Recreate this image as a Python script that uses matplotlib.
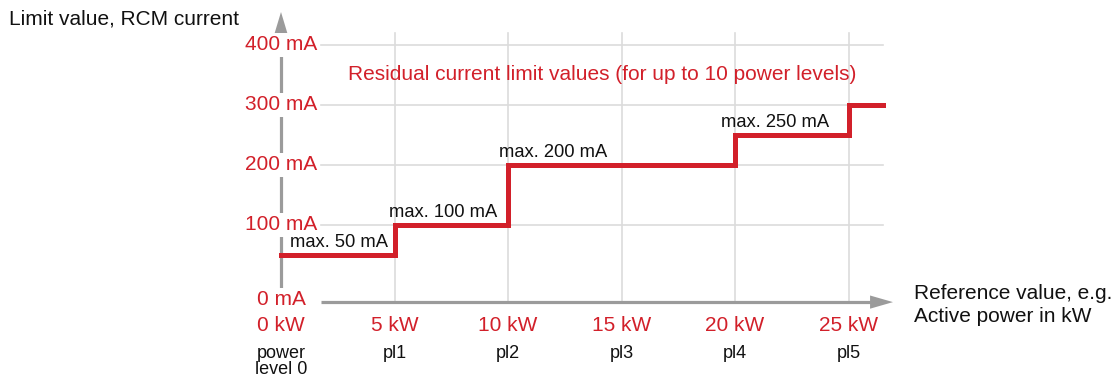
import matplotlib
matplotlib.use("Agg")
import matplotlib.pyplot as plt

plt.rcParams['font.family'] = ['Liberation Sans', 'DejaVu Sans']

# Power levels and their residual current limits
power_kw = [0, 5, 10, 15, 20, 25]
level_labels = ["power\nlevel 0", "pl1", "pl2", "pl3", "pl4", "pl5"]
limit_ma = [50, 100, 200, 200, 250, 300]
x_end_kw = 26.5

y_ticks_ma = [0, 100, 200, 300, 400]
limit_notes = [(0.4, 50, "max. 50 mA"), (4.75, 100, "max. 100 mA"),
               (9.6, 200, "max. 200 mA"), (19.4, 250, "max. 250 mA")]

RED = "#d2202a"
GRAY = "#9b9b9b"
GRID = "#dcdcdc"

W, H = 1118, 378
fig = plt.figure(figsize=(W / 100, H / 100), dpi=100)
ax = fig.add_axes([0, 0, 1, 1])

# pixel mapping: 0 kW at x=281, 22.7 px per kW; 0 mA at y=285, 0.6 px per mA
x0, sx = 281.0, 22.7
y0, sy = 285.0, 0.6
ax.set_xlim(-x0 / sx, (W - x0) / sx)
ax.set_ylim((y0 - H) / sy, y0 / sy)
ax.axis("off")

y_axis_kw = 0
x_axis_ma = -28.5
grid_top = 420
grid_left = 1.75

# grid
for xv in power_kw[1:]:
    ax.plot([xv, xv], [x_axis_ma, grid_top], color=GRID, lw=1.2, zorder=1)
for yv in y_ticks_ma[1:]:
    ax.plot([grid_left, x_end_kw], [yv, yv], color=GRID, lw=1.2, zorder=1)

# axes with arrowheads
ax.plot([y_axis_kw, y_axis_kw], [-13, 420], color=GRAY, lw=2.3, zorder=2,
        solid_capstyle="butt")
ax.fill([-0.31, 0.31, 0], [416, 416, 455], color=GRAY, lw=0, zorder=2)
ax.plot([grid_left, 26.0], [x_axis_ma, x_axis_ma], color=GRAY, lw=2.3, zorder=2,
        solid_capstyle="butt")
ax.fill([25.95, 25.95, 26.96], [x_axis_ma - 11, x_axis_ma + 11, x_axis_ma],
        color=GRAY, lw=0, zorder=2)

# limit step line
ax.step(power_kw + [x_end_kw], limit_ma + [limit_ma[-1]], where="post",
        color=RED, lw=3.6, zorder=4, solid_joinstyle="miter")

box = dict(facecolor="white", edgecolor="none", pad=1.5)
fs = 15

# y tick labels
for yv in y_ticks_ma:
    ypos = x_axis_ma + 4 if yv == 0 else yv
    ax.text(y_axis_kw, ypos, f"{yv} mA", color=RED, fontsize=fs,
            ha="center", va="center", bbox=box, zorder=3)

# x tick labels and power level names
for xv, lab in zip(power_kw, level_labels):
    ax.text(xv, -68, f"{xv} kW", color=RED, fontsize=fs, ha="center",
            va="center", zorder=3)
    ax.text(xv, -100, lab, color="#111111", fontsize=13, ha="center",
            va="top", linespacing=0.9, zorder=3)

# limit annotations
for xv, yv, txt in limit_notes:
    ax.text(xv, yv + 7, txt, color="#111111", fontsize=13.2, ha="left",
            va="bottom", zorder=5)

ax.text(2.95, 351, "Residual current limit values (for up to 10 power levels)",
        color=RED, fontsize=fs, ha="left", va="center", zorder=5)

ax.text(-12.0, 444, "Limit value, RCM current", color="#111111", fontsize=fs,
        ha="left", va="center")
ax.text(27.9, -33, "Reference value, e.g.\nActive power in kW", color="#111111",
        fontsize=fs, ha="left", va="center", linespacing=1.3)

fig.savefig("out.png", dpi=100)
